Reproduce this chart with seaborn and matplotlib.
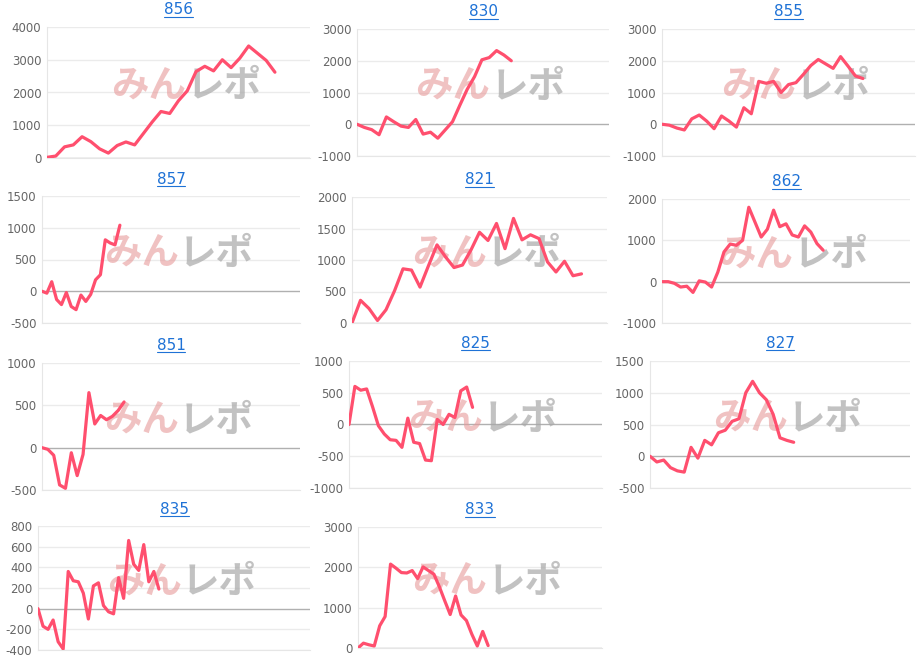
import matplotlib
matplotlib.use("Agg")
import matplotlib.pyplot as plt
import seaborn as sns
import numpy as np

sns.set_style("white")
plt.rcParams['font.family'] = ['DejaVu Sans', 'Noto Sans CJK JP']

titles = ["856", "830", "855", "857", "821", "862", "851", "825", "827", "835", "833"]

v856 = [20, 60, 340, 400, 650, 500, 280, 150, 380, 490, 400, 750, 1100, 1420, 1360, 1750, 2050, 2640, 2800, 2660, 3000, 2760, 3050, 3420, 3200, 2980, 2620]
v830 = [0, -100, -170, -330, 230, 80, -60, -100, 150, -310, -250, -440, -180, 80, 600, 1100, 1500, 2030, 2100, 2320, 2180, 2000]
v855 = [0, -30, -120, -180, 170, 290, 100, -140, 260, 100, -90, 520, 330, 1350, 1290, 1350, 1000, 1250, 1310, 1570, 1850, 2040, 1900, 1760, 2130, 1830, 1520, 1440]
v857 = [0, -30, 150, -130, -210, -20, -240, -290, -60, -160, -50, 180, 260, 810, 760, 730, 1040]
v821 = [0, 360, 230, 40, 210, 510, 860, 840, 570, 910, 1240, 1050, 880, 920, 1160, 1440, 1310, 1580, 1180, 1660, 1320, 1400, 1340, 970, 810, 980, 750, 780]
v862 = [0, 0, -40, -130, -110, -260, 20, -10, -130, 230, 720, 910, 880, 1000, 1800, 1440, 1080, 1270, 1730, 1330, 1400, 1130, 1080, 1350, 1200, 920, 760]
v851 = [0, -20, -90, -440, -480, -60, -330, -80, 650, 280, 380, 330, 370, 440, 540]
v825 = [0, 600, 540, 560, 280, -20, -150, -240, -250, -360, 100, -280, -300, -560, -570, 80, 0, 160, 110, 530, 590, 270]
v827 = [0, -90, -60, -180, -230, -250, 140, -30, 250, 180, 370, 410, 550, 590, 1000, 1180, 1000, 890, 660, 290, 250, 220]
v835 = [0, -170, -200, -110, -320, -390, 360, 270, 260, 150, -100, 220, 250, 30, -30, -50, 300, 100, 660, 430, 370, 620, 260, 360, 190]
v833 = [0, 120, 80, 50, 550, 780, 2080, 1980, 1870, 1860, 1920, 1720, 2010, 1920, 1830, 1520, 1170, 830, 1290, 820, 680, 340, 50, 410, 60]

series = [v856, v830, v855, v857, v821, v862, v851, v825, v827, v835, v833]
yticks = [
    [0, 1000, 2000, 3000, 4000],
    [-1000, 0, 1000, 2000, 3000],
    [-1000, 0, 1000, 2000, 3000],
    [-500, 0, 500, 1000, 1500],
    [0, 500, 1000, 1500, 2000],
    [-1000, 0, 1000, 2000],
    [-500, 0, 500, 1000],
    [-1000, -500, 0, 500, 1000],
    [-500, 0, 500, 1000, 1500],
    [-400, -200, 0, 200, 400, 600, 800],
    [0, 1000, 2000, 3000],
]
xmax = [30, 34.3, 34, 53, 30, 40, 44, 43, 38, 54, 45]
boxes = [
    (47, 27, 310, 158), (357, 29, 609, 156), (662, 29, 915, 156),
    (42, 196, 300, 323), (352, 197, 607, 323), (662, 199, 910, 323),
    (42, 363, 300, 490), (349, 361, 602, 488), (650, 361, 910, 488),
    (38, 526, 310, 650), (358, 527, 602, 648),
]

W, H = 921, 659
fig = plt.figure(figsize=(W / 100, H / 100), dpi=100)
line_color = "#ff4f6e"

for t, vals, yt, xm, (l, tp, r, b) in zip(titles, series, yticks, xmax, boxes):
    ax = fig.add_axes([l / W, 1 - b / H, (r - l) / W, (b - tp) / H])
    x = np.arange(len(vals))
    ax.text(0.53, 0.55, "みん", transform=ax.transAxes, fontsize=27, fontweight="bold",
            color="#e79a9a", alpha=0.6, ha="right", va="center", family="Noto Sans CJK JP", zorder=1)
    ax.text(0.53, 0.55, "レポ", transform=ax.transAxes, fontsize=27, fontweight="bold",
            color="#a8a8a8", alpha=0.7, ha="left", va="center", family="Noto Sans CJK JP", zorder=1)
    sns.lineplot(x=x, y=vals, ax=ax, color=line_color, linewidth=2.3, zorder=3)
    ax.set_xlim(0, xm)
    ax.set_ylim(yt[0], yt[-1])
    ax.set_yticks(yt)
    ax.set_yticklabels([str(v) for v in yt], fontsize=8.5, color="#666666")
    ax.set_xticks([])
    ax.tick_params(axis="y", length=0, pad=4)
    for s in ["top", "right"]:
        ax.spines[s].set_visible(False)
    ax.spines["left"].set_color("#e6e6e6")
    ax.spines["bottom"].set_color("#e6e6e6")
    for v in yt:
        ax.axhline(v, color="#b0b0b0" if v == 0 else "#ebebeb", linewidth=1, zorder=0)
    ax.set_title(t, fontsize=11, color="#1f72d6", pad=9)
    ax.set_xlabel("")
    ax.set_ylabel("")

fig.canvas.draw()
for ax in fig.axes:
    bb = ax.title.get_window_extent()
    x0, x1 = bb.x0 / W, bb.x1 / W
    y = (bb.y0 + 1) / H
    fig.add_artist(plt.Line2D([x0, x1], [y, y], color="#1f72d6", linewidth=0.8))

fig.savefig("out.png", dpi=100)
